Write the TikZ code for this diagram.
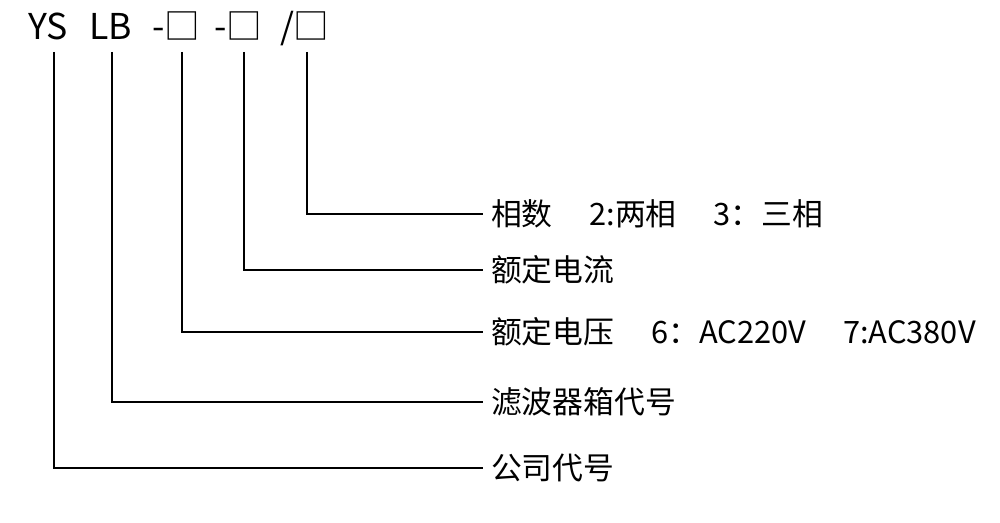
\documentclass[tikz,border=0pt]{standalone}
\usepackage{fontspec}
\setmainfont{Noto Sans CJK SC}
\begin{document}
\begin{tikzpicture}[x=0.5pt,y=-0.5pt,line width=1pt,
    code/.style={anchor=base west,inner sep=0pt,font=\fontsize{17.8pt}{17.8pt}\selectfont},
    lbl/.style={anchor=west,inner xsep=3.5pt,inner ysep=0pt,font=\fontsize{15.4pt}{15.4pt}\selectfont}]
  \useasboundingbox (0,0) rectangle (1000,523);
  % model code
  \node[code] (ys) at (27,40) {YS};
  \node[code] (lb) at (88,40) {LB};
  \node[code] (rv) at (151,40) {-□};
  \node[code] (rc) at (213,40) {-□};
  \node[code] (ph) at (279,40) {/□};
  \foreach \n/\x in {ys/54,lb/112,rv/182,rc/244,ph/307}
    \coordinate (t\n) at (\x,52);
  % meanings
  \node[lbl] (phase) at (483,214) {相数\hspace{1.2em}2:两相\hspace{1.2em}3：三相};
  \node[lbl] (curr) at (483,270) {额定电流};
  \node[lbl] (volt) at (483,332) {额定电压\hspace{1.2em}6：AC220V\hspace{1.2em}7:AC380V};
  \node[lbl] (box) at (483,402) {滤波器箱代号};
  \node[lbl] (corp) at (483,468) {公司代号};
  \foreach \a/\b in {ph/phase,rc/curr,rv/volt,lb/box,ys/corp}
    \draw (t\a) |- (\b.west);
\end{tikzpicture}
\end{document}
